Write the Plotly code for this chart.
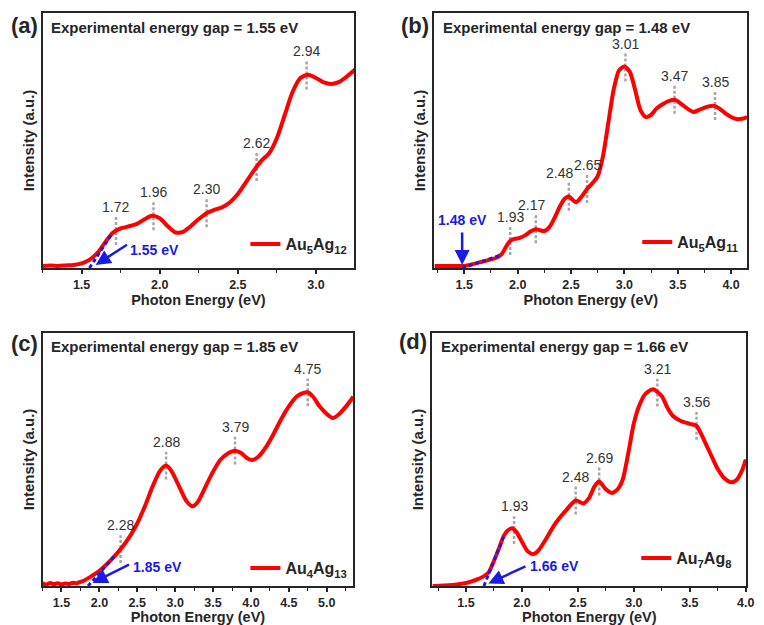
import numpy as np
import plotly.graph_objects as go

# ---------------- data ----------------
# (a) Au5Ag12
energy_a = [1.25, 1.30, 1.35, 1.40, 1.45, 1.50, 1.55, 1.60, 1.65, 1.70, 1.75, 1.80, 1.85,
            1.90, 1.95, 2.00, 2.05, 2.10, 2.15, 2.20, 2.25, 2.30, 2.35, 2.40, 2.45, 2.50,
            2.55, 2.60, 2.65, 2.70, 2.75, 2.80, 2.85, 2.90, 2.95, 3.00, 3.05, 3.10, 3.15,
            3.20, 3.25]
absorb_a = [0.008, 0.010, 0.008, 0.010, 0.012, 0.018, 0.032, 0.058, 0.100, 0.138, 0.155,
            0.163, 0.172, 0.190, 0.205, 0.195, 0.165, 0.140, 0.142, 0.165, 0.192, 0.215,
            0.228, 0.238, 0.258, 0.290, 0.335, 0.380, 0.420, 0.450, 0.510, 0.600, 0.690,
            0.745, 0.758, 0.745, 0.728, 0.722, 0.730, 0.752, 0.778]
peaks_a = [1.72, 1.96, 2.30, 2.62, 2.94]
gap_a = 1.55
tangent_end_a = 1.69
name_a = "Au<sub>5</sub>Ag<sub>12</sub>"

# (b) Au5Ag11
energy_b = [1.22, 1.30, 1.40, 1.48, 1.55, 1.60, 1.65, 1.70, 1.75, 1.80, 1.85, 1.90, 1.93,
            1.97, 2.02, 2.07, 2.12, 2.17, 2.21, 2.25, 2.30, 2.35, 2.40, 2.44, 2.48, 2.52,
            2.55, 2.60, 2.65, 2.70, 2.75, 2.80, 2.85, 2.90, 2.95, 3.00, 3.05, 3.10, 3.15,
            3.20, 3.25, 3.30, 3.35, 3.40, 3.47, 3.55, 3.60, 3.65, 3.70, 3.78, 3.85, 3.90,
            3.95, 4.00, 4.05, 4.10, 4.15]
absorb_b = [0.008, 0.008, 0.008, 0.008, 0.012, 0.017, 0.023, 0.028, 0.034, 0.040, 0.054,
            0.090, 0.106, 0.114, 0.118, 0.128, 0.143, 0.152, 0.148, 0.145, 0.162, 0.200,
            0.245, 0.272, 0.280, 0.265, 0.258, 0.280, 0.310, 0.332, 0.360, 0.440, 0.570,
            0.700, 0.775, 0.790, 0.770, 0.700, 0.620, 0.592, 0.600, 0.625, 0.640, 0.652,
            0.660, 0.638, 0.622, 0.612, 0.620, 0.633, 0.635, 0.622, 0.605, 0.592, 0.584,
            0.585, 0.592]
peaks_b = [1.93, 2.17, 2.48, 2.65, 3.01, 3.47, 3.85]
gap_b = 1.48
tangent_end_b = 1.83
name_b = "Au<sub>5</sub>Ag<sub>11</sub>"

# (c) Au4Ag13
energy_c = [1.25, 1.30, 1.35, 1.40, 1.45, 1.50, 1.55, 1.60, 1.65, 1.70, 1.75, 1.80, 1.90,
            2.00, 2.10, 2.20, 2.30, 2.40, 2.50, 2.60, 2.70, 2.80, 2.88, 2.95, 3.05, 3.15,
            3.23, 3.30, 3.40, 3.50, 3.60, 3.70, 3.79, 3.87, 3.95, 4.02, 4.10, 4.20, 4.30,
            4.40, 4.50, 4.60, 4.70, 4.75, 4.82, 4.90, 5.00, 5.08, 5.15, 5.25, 5.35]
absorb_c = [0.010, 0.006, 0.012, 0.007, 0.011, 0.006, 0.010, 0.008, 0.013, 0.011, 0.016,
            0.022, 0.040, 0.060, 0.087, 0.118, 0.153, 0.195, 0.248, 0.315, 0.392, 0.455,
            0.476, 0.455, 0.395, 0.335, 0.315, 0.333, 0.392, 0.452, 0.500, 0.525, 0.535,
            0.526, 0.505, 0.498, 0.512, 0.550, 0.602, 0.660, 0.710, 0.748, 0.764, 0.765,
            0.748, 0.712, 0.680, 0.664, 0.676, 0.708, 0.748]
peaks_c = [2.28, 2.88, 3.79, 4.75]
gap_c = 1.85
tangent_end_c = 2.20
name_c = "Au<sub>4</sub>Ag<sub>13</sub>"

# (d) Au7Ag8
energy_d = [1.20, 1.30, 1.40, 1.50, 1.55, 1.60, 1.65, 1.70, 1.75, 1.80, 1.84, 1.87, 1.91,
            1.95, 2.00, 2.05, 2.10, 2.15, 2.20, 2.30, 2.40, 2.48, 2.55, 2.60, 2.65, 2.69,
            2.75, 2.80, 2.85, 2.90, 2.95, 3.00, 3.05, 3.10, 3.17, 3.25, 3.30, 3.35, 3.42,
            3.50, 3.56, 3.60, 3.65, 3.70, 3.75, 3.80, 3.87, 3.92, 3.97, 4.00]
absorb_d = [0.000, 0.002, 0.005, 0.012, 0.018, 0.026, 0.036, 0.052, 0.100, 0.155, 0.200,
            0.218, 0.228, 0.214, 0.175, 0.138, 0.126, 0.142, 0.175, 0.248, 0.302, 0.338,
            0.326, 0.348, 0.395, 0.413, 0.382, 0.368, 0.380, 0.420, 0.525, 0.643, 0.715,
            0.758, 0.778, 0.750, 0.705, 0.672, 0.652, 0.641, 0.633, 0.602, 0.555, 0.508,
            0.462, 0.430, 0.410, 0.420, 0.460, 0.500]
peaks_d = [1.93, 2.48, 2.69, 3.21, 3.56]
gap_d = 1.66
tangent_end_d = 1.84
name_d = "Au<sub>7</sub>Ag<sub>8</sub>"

# ---------------- styling ----------------
FONT = "Arial, Liberation Sans, sans-serif"
RED = "#ff0000"
BLUE = "#1a1ae6"
GREY = "#a6a6a6"
INK = "#262626"
W, H = 764, 625

panels = [
    dict(tag="(a)", E=energy_a, A=absorb_a, peaks=peaks_a, gap=gap_a, tend=tangent_end_a,
         name=name_a, xdom=[43, 358], ydom=[13, 268], xrange=[1.25, 3.245],
         letter=(40, 26), legend=(248, 244),
         arrow=dict(head=(1.59, 0.012), tail=(1.80, 0.095)), gaptext=(1.80, 0.07, "left"),
         shifts={}),
    dict(tag="(b)", E=energy_b, A=absorb_b, peaks=peaks_b, gap=gap_b, tend=tangent_end_b,
         name=name_b, xdom=[439, 755], ydom=[13, 268], xrange=[1.22, 4.15],
         letter=(436, 26), legend=(644, 242),
         arrow=dict(head=(1.48, 0.012), tail=(1.48, 0.145)), gaptext=(1.48, 0.19, "center"),
         shifts={2.48: -9, 2.17: -4}),
    dict(tag="(c)", E=energy_c, A=absorb_c, peaks=peaks_c, gap=gap_c, tend=tangent_end_c,
         name=name_c, xdom=[43, 357], ydom=[333, 586], xrange=[1.25, 5.35],
         letter=(40, 343), legend=(248, 568),
         arrow=dict(head=(1.91, 0.012), tail=(2.41, 0.087)), gaptext=(2.42, 0.075, "left"),
         shifts={}),
    dict(tag="(d)", E=energy_d, A=absorb_d, peaks=peaks_d, gap=gap_d, tend=tangent_end_d,
         name=name_d, xdom=[437, 754], ydom=[333, 586], xrange=[1.2, 4.003],
         letter=(434, 341), legend=(643, 558),
         arrow=dict(head=(1.70, 0.010), tail=(2.045, 0.08)), gaptext=(2.05, 0.078, "left"),
         shifts={}),
]

fig = go.Figure()
annotations = []
layout_extra = {}
HALF = 0.055  # half height of the dotted peak markers (axis units)

for i, p in enumerate(panels, start=1):
    sfx = "" if i == 1 else str(i)
    xref, yref = "x" + sfx, "y" + sfx
    leg = "legend" + sfx
    E = np.array(p["E"])
    A = np.array(p["A"])

    # dotted peak markers, centred on the spectrum
    mx, my = [], []
    for pk in p["peaks"]:
        yc = float(np.interp(pk, E, A))
        mx += [pk, pk, None]
        my += [yc - HALF, yc + HALF, None]
        annotations.append(dict(
            x=pk, y=yc + HALF, xref=xref, yref=yref, text=f"{pk:.2f}", showarrow=False,
            yanchor="bottom", xanchor="center", xshift=p["shifts"].get(pk, 0), yshift=0,
            font=dict(family=FONT, size=14, color="#333333")))
    fig.add_trace(go.Scatter(x=mx, y=my, mode="lines", xaxis=xref, yaxis=yref,
                             line=dict(color=GREY, width=2.5, dash="3px,2px"),
                             showlegend=False, hoverinfo="skip"))

    # absorption spectrum
    fig.add_trace(go.Scatter(x=E, y=A, mode="lines", xaxis=xref, yaxis=yref,
                             name=f"<b>{p['name']}</b>", legend=leg,
                             line=dict(color=RED, width=4, shape="spline", smoothing=0.7)))

    # onset tangent extrapolated to the baseline
    ty = float(np.interp(p["tend"], E, A))
    fig.add_trace(go.Scatter(x=[p["gap"], p["tend"]], y=[0, ty], mode="lines",
                             xaxis=xref, yaxis=yref, showlegend=False, hoverinfo="skip",
                             line=dict(color=BLUE, width=3, dash="4px,3px")))

    # arrow + gap value
    hx, hy = p["arrow"]["head"]
    tx, ty2 = p["arrow"]["tail"]
    annotations.append(dict(x=hx, y=hy, ax=tx, ay=ty2, xref=xref, yref=yref,
                            axref=xref, ayref=yref, text="", showarrow=True,
                            arrowhead=2, arrowsize=1.2, arrowwidth=2.5, arrowcolor=BLUE,
                            standoff=0, startstandoff=0))
    gx, gy, ganchor = p["gaptext"]
    annotations.append(dict(x=gx, y=gy, xref=xref, yref=yref, text=f"<b>{p['gap']:.2f} eV</b>",
                            showarrow=False, xanchor=ganchor, yanchor="middle",
                            font=dict(family=FONT, size=14, color=BLUE)))

    # header text inside the frame
    annotations.append(dict(x=0.022, y=0.945, xref=xref + " domain", yref=yref,
                            text=f"<b>Experimental energy gap = {p['gap']:.2f} eV</b>",
                            showarrow=False, xanchor="left", yanchor="middle",
                            font=dict(family=FONT, size=15, color=INK)))
    # panel letter
    lx, ly = p["letter"]
    annotations.append(dict(x=lx / W, y=1 - ly / H, xref="paper", yref="paper",
                            text=f"<b>{p['tag']}</b>", showarrow=False,
                            xanchor="right", yanchor="middle",
                            font=dict(family=FONT, size=22, color=INK)))

    # axes
    x0, x1 = p["xdom"]
    y0, y1 = p["ydom"]
    layout_extra["xaxis" + sfx] = dict(
        domain=[x0 / W, x1 / W], range=p["xrange"], anchor=yref,
        showline=True, linecolor=INK, linewidth=1.5, mirror=True,
        ticks="outside", ticklen=4, tickwidth=1.5, tickcolor=INK, dtick=0.5, tick0=0,
        minor=dict(dtick=0.25, ticks="outside", ticklen=3, tickwidth=1.2, tickcolor=INK),
        tickformat=".1f", showgrid=False, zeroline=False,
        tickfont=dict(family=FONT, size=12.5, color=INK, weight="bold"),
        title=dict(text="Photon Energy (eV)", standoff=0,
                   font=dict(family=FONT, size=14.5, color=INK, weight="bold")))
    layout_extra["yaxis" + sfx] = dict(
        domain=[1 - y1 / H, 1 - y0 / H], range=[0, 1], anchor=xref,
        showline=True, linecolor=INK, linewidth=1.5, mirror=True,
        ticks="", showticklabels=False, showgrid=False, zeroline=False,
        title=dict(text="Intensity (a.u.)", standoff=3,
                   font=dict(family=FONT, size=15, color=INK, weight="bold")))
    lgx, lgy = p["legend"]
    layout_extra[leg] = dict(x=lgx / W, y=1 - lgy / H, xanchor="left", yanchor="middle",
                             xref="paper", yref="paper", bgcolor="rgba(0,0,0,0)",
                             borderwidth=0, itemwidth=30,
                             font=dict(family=FONT, size=16, color=INK))

fig.update_layout(
    width=W, height=H, margin=dict(l=0, r=0, t=0, b=0),
    paper_bgcolor="white", plot_bgcolor="white",
    annotations=annotations, **layout_extra)

fig.write_html("out.html")
